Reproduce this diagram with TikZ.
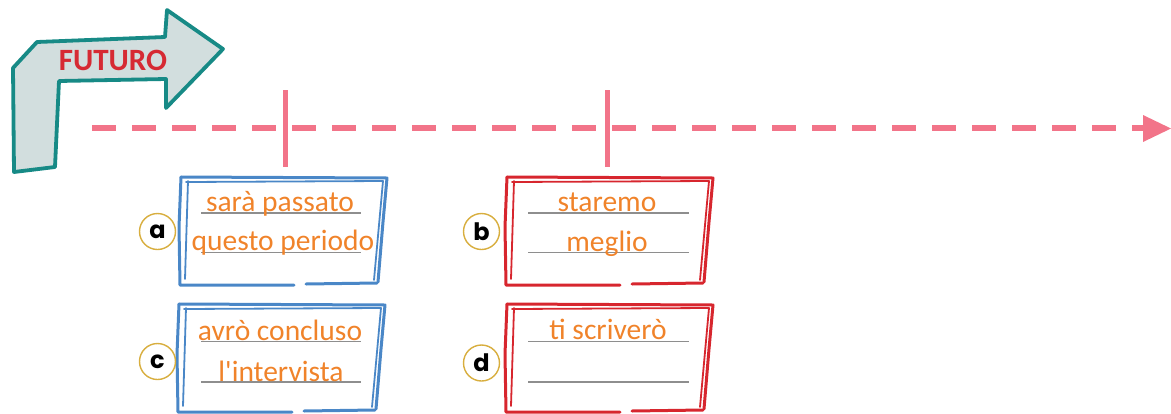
\documentclass[tikz,border=0pt]{standalone}
\usepackage{fontspec}
\setmainfont{Carlito}
\newfontfamily\ansfont{Carlito}
\newfontfamily\letterfont{Poppins Bold}
\definecolor{tlpink}{HTML}{F27489}
\definecolor{teal}{HTML}{178A86}
\definecolor{arrfill}{HTML}{D2DEDE}
\definecolor{futred}{HTML}{D62A33}
\definecolor{bblue}{HTML}{4A87C7}
\definecolor{bred}{HTML}{D7262E}
\definecolor{ansor}{HTML}{F0832A}
\definecolor{ringc}{HTML}{D8AE3E}
\definecolor{rulegray}{HTML}{8E8E8E}
\newcommand{\skframe}[3]{% x, y, colour
  \begin{scope}[shift={(#1,#2)}, draw=#3, line width=3pt, line cap=round, line join=round]
    \draw (1,0) -- (207,1) -- (203,45) -- (198,105);
    \draw (197,106) -- (126,107);
    \draw (114,108) -- (0,108) -- (-1,50) -- (1,0);
    \draw[line width=1.8pt] (6,5) -- (203,4) -- (194,103);
    \draw[line width=1.8pt] (8,4) -- (5,102);
  \end{scope}}
\tikzset{
  ans/.style={font=\ansfont\fontsize{29.5}{31}\selectfont, text=ansor, anchor=base, inner sep=0pt},
  ring/.style={circle, draw=ringc, line width=1.4pt, fill=white, minimum size=36pt, inner sep=0pt, font=\letterfont\fontsize{24}{24}\selectfont},
  rule/.style={draw=rulegray, line width=1.2pt},
  tick/.style={draw=tlpink, line width=5pt},
}
\begin{document}
\begin{tikzpicture}[x=1pt,y=-1pt]
\useasboundingbox (0,0) rectangle (1171,413);
% timeline
\coordinate (ts) at (92,128);
\coordinate (te) at (1145,128);
\draw[tlpink, line width=6pt, dash pattern=on 24pt off 16pt] (ts) -- (te);
\fill[tlpink] (1143,115) -- (1171,128.5) -- (1143,142) -- cycle;
\coordinate (t1a) at (285,90); \coordinate (t1b) at (285,167);
\coordinate (t2a) at (607,90); \coordinate (t2b) at (607,167);
\draw[tick] (t1a) -- (t1b);
\draw[tick] (t2a) -- (t2b);
% FUTURO arrow
\draw[teal, fill=arrfill, line width=3.8pt, line join=round]
  (14,172) -- (13,68) -- (37,42) -- (165,37) -- (167,10) -- (223,49)
  -- (166,108) -- (166,79) -- (59,81) -- (55,167) -- cycle;
\node[font=\bfseries\fontsize{31}{31}\selectfont, text=futred, inner sep=0pt] (fut) at (113,60) {FUTURO};
% frames
\skframe{180}{177}{bblue}
\skframe{506}{177}{bred}
\skframe{178}{304}{bblue}
\skframe{506}{304}{bred}
% rules
\draw[rule] (201,213) -- (361,213);
\draw[rule] (201,252.5) -- (361,252.5);
\draw[rule] (528,213) -- (689,213);
\draw[rule] (528,252.5) -- (689,252.5);
\draw[rule] (201,341.5) -- (361,341.5);
\draw[rule] (201,382) -- (361,382);
\draw[rule] (528,341.5) -- (689,341.5);
\draw[rule] (528,382) -- (689,382);
% answers
\node[ans] (a1) at (280,211.5) {sarà passato};
\node[ans] (a2) at (283,250.5) {questo periodo};
\node[ans] (b1) at (607,211.5) {staremo};
\node[ans] (b2) at (607,251.5) {meglio};
\node[ans] (c1) at (280,340) {avrò concluso};
\node[ans] (c2) at (281,381) {l'intervista};
\node[ans] (d1) at (608,339.5) {ti scriverò};
% letters
\node[ring] (la) at (157.5,231.5) {a};
\node[ring] (lb) at (481.5,231.5) {b};
\node[ring] (lc) at (157.5,361.5) {c};
\node[ring] (ld) at (481.5,363) {d};
\end{tikzpicture}
\end{document}
